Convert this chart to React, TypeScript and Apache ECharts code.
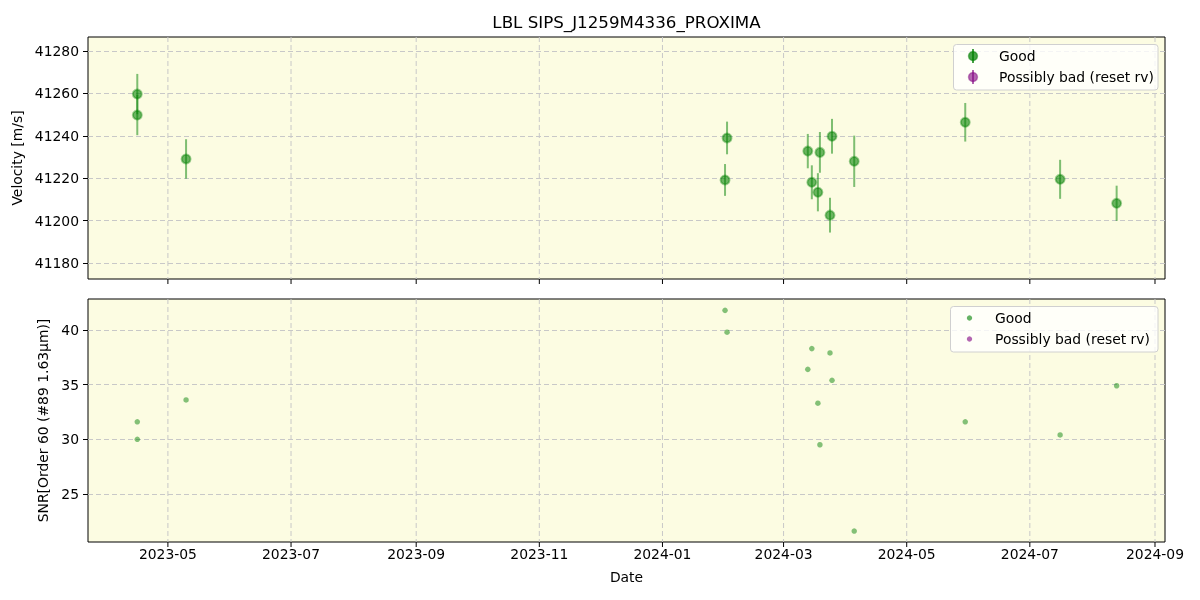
import React, { useEffect, useRef } from "react";
import * as echarts from "echarts";

const vDates = ["2023-04-15T20", "2023-04-15T20", "2023-05-10", "2024-02-01", "2024-02-02", "2024-03-13", "2024-03-15", "2024-03-18", "2024-03-19", "2024-03-24", "2024-03-25", "2024-04-05", "2024-05-30", "2024-07-16", "2024-08-13"];
const velocity = [41259.7, 41249.8, 41229.1, 41219.2, 41239.0, 41232.8, 41218.1, 41213.4, 41232.2, 41202.6, 41239.8, 41228.0, 41246.4, 41219.5, 41208.2];
const velErr = [9.5, 9.5, 9.3, 7.5, 7.7, 8.1, 8.0, 9.0, 9.6, 8.2, 8.2, 12.1, 9.1, 9.2, 8.3];
const snr = [31.6, 30.0, 33.6, 41.8, 39.8, 36.4, 38.3, 33.3, 29.5, 37.9, 35.4, 21.6, 31.6, 30.4, 34.9];
const xTicks = ["2023-05-01", "2023-07-01", "2023-09-01", "2023-11-01", "2024-01-01", "2024-03-01", "2024-05-01", "2024-07-01", "2024-09-01"];
const velTicks = [41180, 41200, 41220, 41240, 41260, 41280];
const snrTicks = [25, 30, 35, 40];

const TITLE = "LBL SIPS_J1259M4336_PROXIMA";
const FONT = "DejaVu Sans";
const FS = 13.9;

const ts = (s: string) => {
  const [datePart, hourPart] = s.split("T");
  const [y, m, d] = datePart.split("-").map(Number);
  return new Date(y, m - 1, d, hourPart ? Number(hourPart) : 0).getTime();
};

const X_MIN = ts("2023-03-22T10");
const X_MAX = ts("2024-09-05T23");
const V_MIN = 41172.5, V_MAX = 41286.6;
const S_MIN = 20.6, S_MAX = 42.84;

const GREEN_ERR = "rgba(0,128,0,0.5)";
const GREEN_PT = "rgba(0,128,0,0.72)";
const GREEN_RING = "rgba(0,128,0,0.45)";
const GREEN_SMALL = "rgba(0,128,0,0.6)";
const PURPLE = "rgba(128,0,128,0.6)";

export default function App() {
  const ref = useRef<HTMLDivElement>(null);
  useEffect(() => {
    if (!ref.current) return;
    const chart = echarts.init(ref.current, undefined, { renderer: "svg" });

    const tickSeries = (idx: number, yMin: number, labels: boolean) => ({
      type: "custom",
      xAxisIndex: idx,
      yAxisIndex: idx,
      z: 1,
      silent: true,
      clip: false,
      data: xTicks.map((s) => [ts(s), yMin]),
      renderItem: (params: any, api: any) => {
        const cs = params.coordSys;
        const x = api.coord([api.value(0), api.value(1)])[0];
        const bottom = cs.y + cs.height;
        const children: any[] = [
          {
            type: "line",
            shape: { x1: x, y1: cs.y, x2: x, y2: bottom },
            style: { stroke: "#c8c8c8", lineWidth: 1, lineDash: [5, 3] },
          },
          {
            type: "line",
            shape: { x1: x, y1: bottom, x2: x, y2: bottom + 5 },
            style: { stroke: "#000", lineWidth: 1 },
          },
        ];
        if (labels) {
          children.push({
            type: "text",
            style: {
              x,
              y: bottom + 11.5,
              text: xTicks[params.dataIndex].slice(0, 7),
              fontSize: FS,
              fontFamily: FONT,
              fill: "#000",
              align: "center",
              verticalAlign: "middle",
            },
          });
        }
        return { type: "group", children };
      },
    });

    const yAxisBase = (min: number, max: number, ticks: number[], name: string, gap: number, idx: number) => ({
      type: "value",
      gridIndex: idx,
      min,
      max,
      splitNumber: 5,
      name,
      nameLocation: "middle",
      nameGap: gap,
      nameTextStyle: { fontSize: FS, fontFamily: FONT, color: "#000" },
      axisLine: { show: false },
      axisTick: { show: true, inside: false, length: 5, lineStyle: { color: "#000", width: 1 }, customValues: ticks },
      axisLabel: { fontSize: FS, fontFamily: FONT, color: "#000", margin: 9, customValues: ticks, formatter: (v: number) => String(v) },
      splitLine: { show: true, lineStyle: { color: "#c8c8c8", width: 1, type: [5, 3] } },
    });

    const xAxisBase = (idx: number) => ({
      type: "time",
      gridIndex: idx,
      min: X_MIN,
      max: X_MAX,
      axisLine: { show: false },
      axisTick: { show: false },
      axisLabel: { show: false },
      splitLine: { show: false },
    });

    const legend = (x: number, y: number, w: number, h: number, mx: number, tx: number, r1: number, r2: number, top: boolean) => {
      const marker = (cy: number, color: string, ring: string) =>
        top
          ? [
              { type: "line", shape: { x1: mx, y1: cy - 7, x2: mx, y2: cy + 7 }, style: { stroke: color, lineWidth: 2 } },
              { type: "circle", shape: { cx: mx, cy, r: 4.5 }, style: { fill: color, stroke: ring, lineWidth: 1.5 } },
            ]
          : [{ type: "circle", shape: { cx: mx, cy, r: 2.7 }, style: { fill: color } }];
      return [
        { type: "rect", shape: { x, y, width: w, height: h, r: 3 }, style: { fill: "rgba(255,255,255,0.8)", stroke: "#d0d0d0", lineWidth: 1 }, z: 10 },
        ...marker(r1, top ? GREEN_PT : GREEN_SMALL, GREEN_RING).map((e) => ({ ...e, z: 11 })),
        ...marker(r2, PURPLE, "rgba(128,0,128,0.4)").map((e) => ({ ...e, z: 11 })),
        { type: "text", x: tx, y: r1, style: { text: "Good", fontSize: FS, fontFamily: FONT, fill: "#000", verticalAlign: "middle" }, z: 11 },
        { type: "text", x: tx, y: r2, style: { text: "Possibly bad (reset rv)", fontSize: FS, fontFamily: FONT, fill: "#000", verticalAlign: "middle" }, z: 11 },
      ];
    };

    chart.setOption({
      animation: false,
      grid: [
        { left: 88, top: 37, width: 1077, height: 242, show: true, backgroundColor: "#fcfce2", borderColor: "#000", borderWidth: 1 },
        { left: 88, top: 299, width: 1077, height: 243, show: true, backgroundColor: "#fcfce2", borderColor: "#000", borderWidth: 1 },
      ],
      xAxis: [xAxisBase(0), xAxisBase(1)],
      yAxis: [
        yAxisBase(V_MIN, V_MAX, velTicks, "Velocity [m/s]", 50, 0),
        yAxisBase(S_MIN, S_MAX, snrTicks, "SNR[Order 60 (#89 1.63μm)]", 29, 1),
      ],
      graphic: [
        { type: "text", x: 626.5, y: 22, style: { text: TITLE, fontSize: 16.7, fontFamily: FONT, fill: "#000", align: "center", verticalAlign: "middle" } },
        { type: "text", x: 626.5, y: 577, style: { text: "Date", fontSize: FS, fontFamily: FONT, fill: "#000", align: "center", verticalAlign: "middle" } },
        ...legend(953.5, 44.5, 204.5, 45.5, 973, 999, 56, 77, true),
        ...legend(950.5, 306.5, 207.5, 45.5, 969.5, 995, 318, 339, false),
      ],
      series: [
        tickSeries(0, V_MIN, false),
        tickSeries(1, S_MIN, true),
        {
          type: "custom",
          name: "Good",
          xAxisIndex: 0,
          yAxisIndex: 0,
          z: 2,
          silent: true,
          data: vDates.map((d, i) => [ts(d), velocity[i], velErr[i]]),
          encode: { x: 0, y: 1 },
          renderItem: (params: any, api: any) => {
            const t = api.value(0), v = api.value(1), e = api.value(2);
            const p1 = api.coord([t, v - e]);
            const p2 = api.coord([t, v + e]);
            return {
              type: "line",
              shape: { x1: p1[0], y1: p1[1], x2: p2[0], y2: p2[1] },
              style: { stroke: GREEN_ERR, lineWidth: 2 },
            };
          },
        },
        {
          type: "scatter",
          name: "Good",
          xAxisIndex: 0,
          yAxisIndex: 0,
          z: 3,
          symbolSize: 9,
          itemStyle: { color: GREEN_PT, borderColor: GREEN_RING, borderWidth: 2 },
          data: vDates.map((d, i) => [ts(d), velocity[i]]),
        },
        {
          type: "scatter",
          name: "Good",
          xAxisIndex: 1,
          yAxisIndex: 1,
          z: 3,
          symbolSize: 5.5,
          itemStyle: { color: GREEN_SMALL },
          data: vDates.map((d, i) => [ts(d), snr[i]]),
        },
      ],
    });
    return () => chart.dispose();
  }, []);
  return <div ref={ref} style={{ position: "fixed", left: 0, top: 0, width: 1200, height: 600 }} />;
}
